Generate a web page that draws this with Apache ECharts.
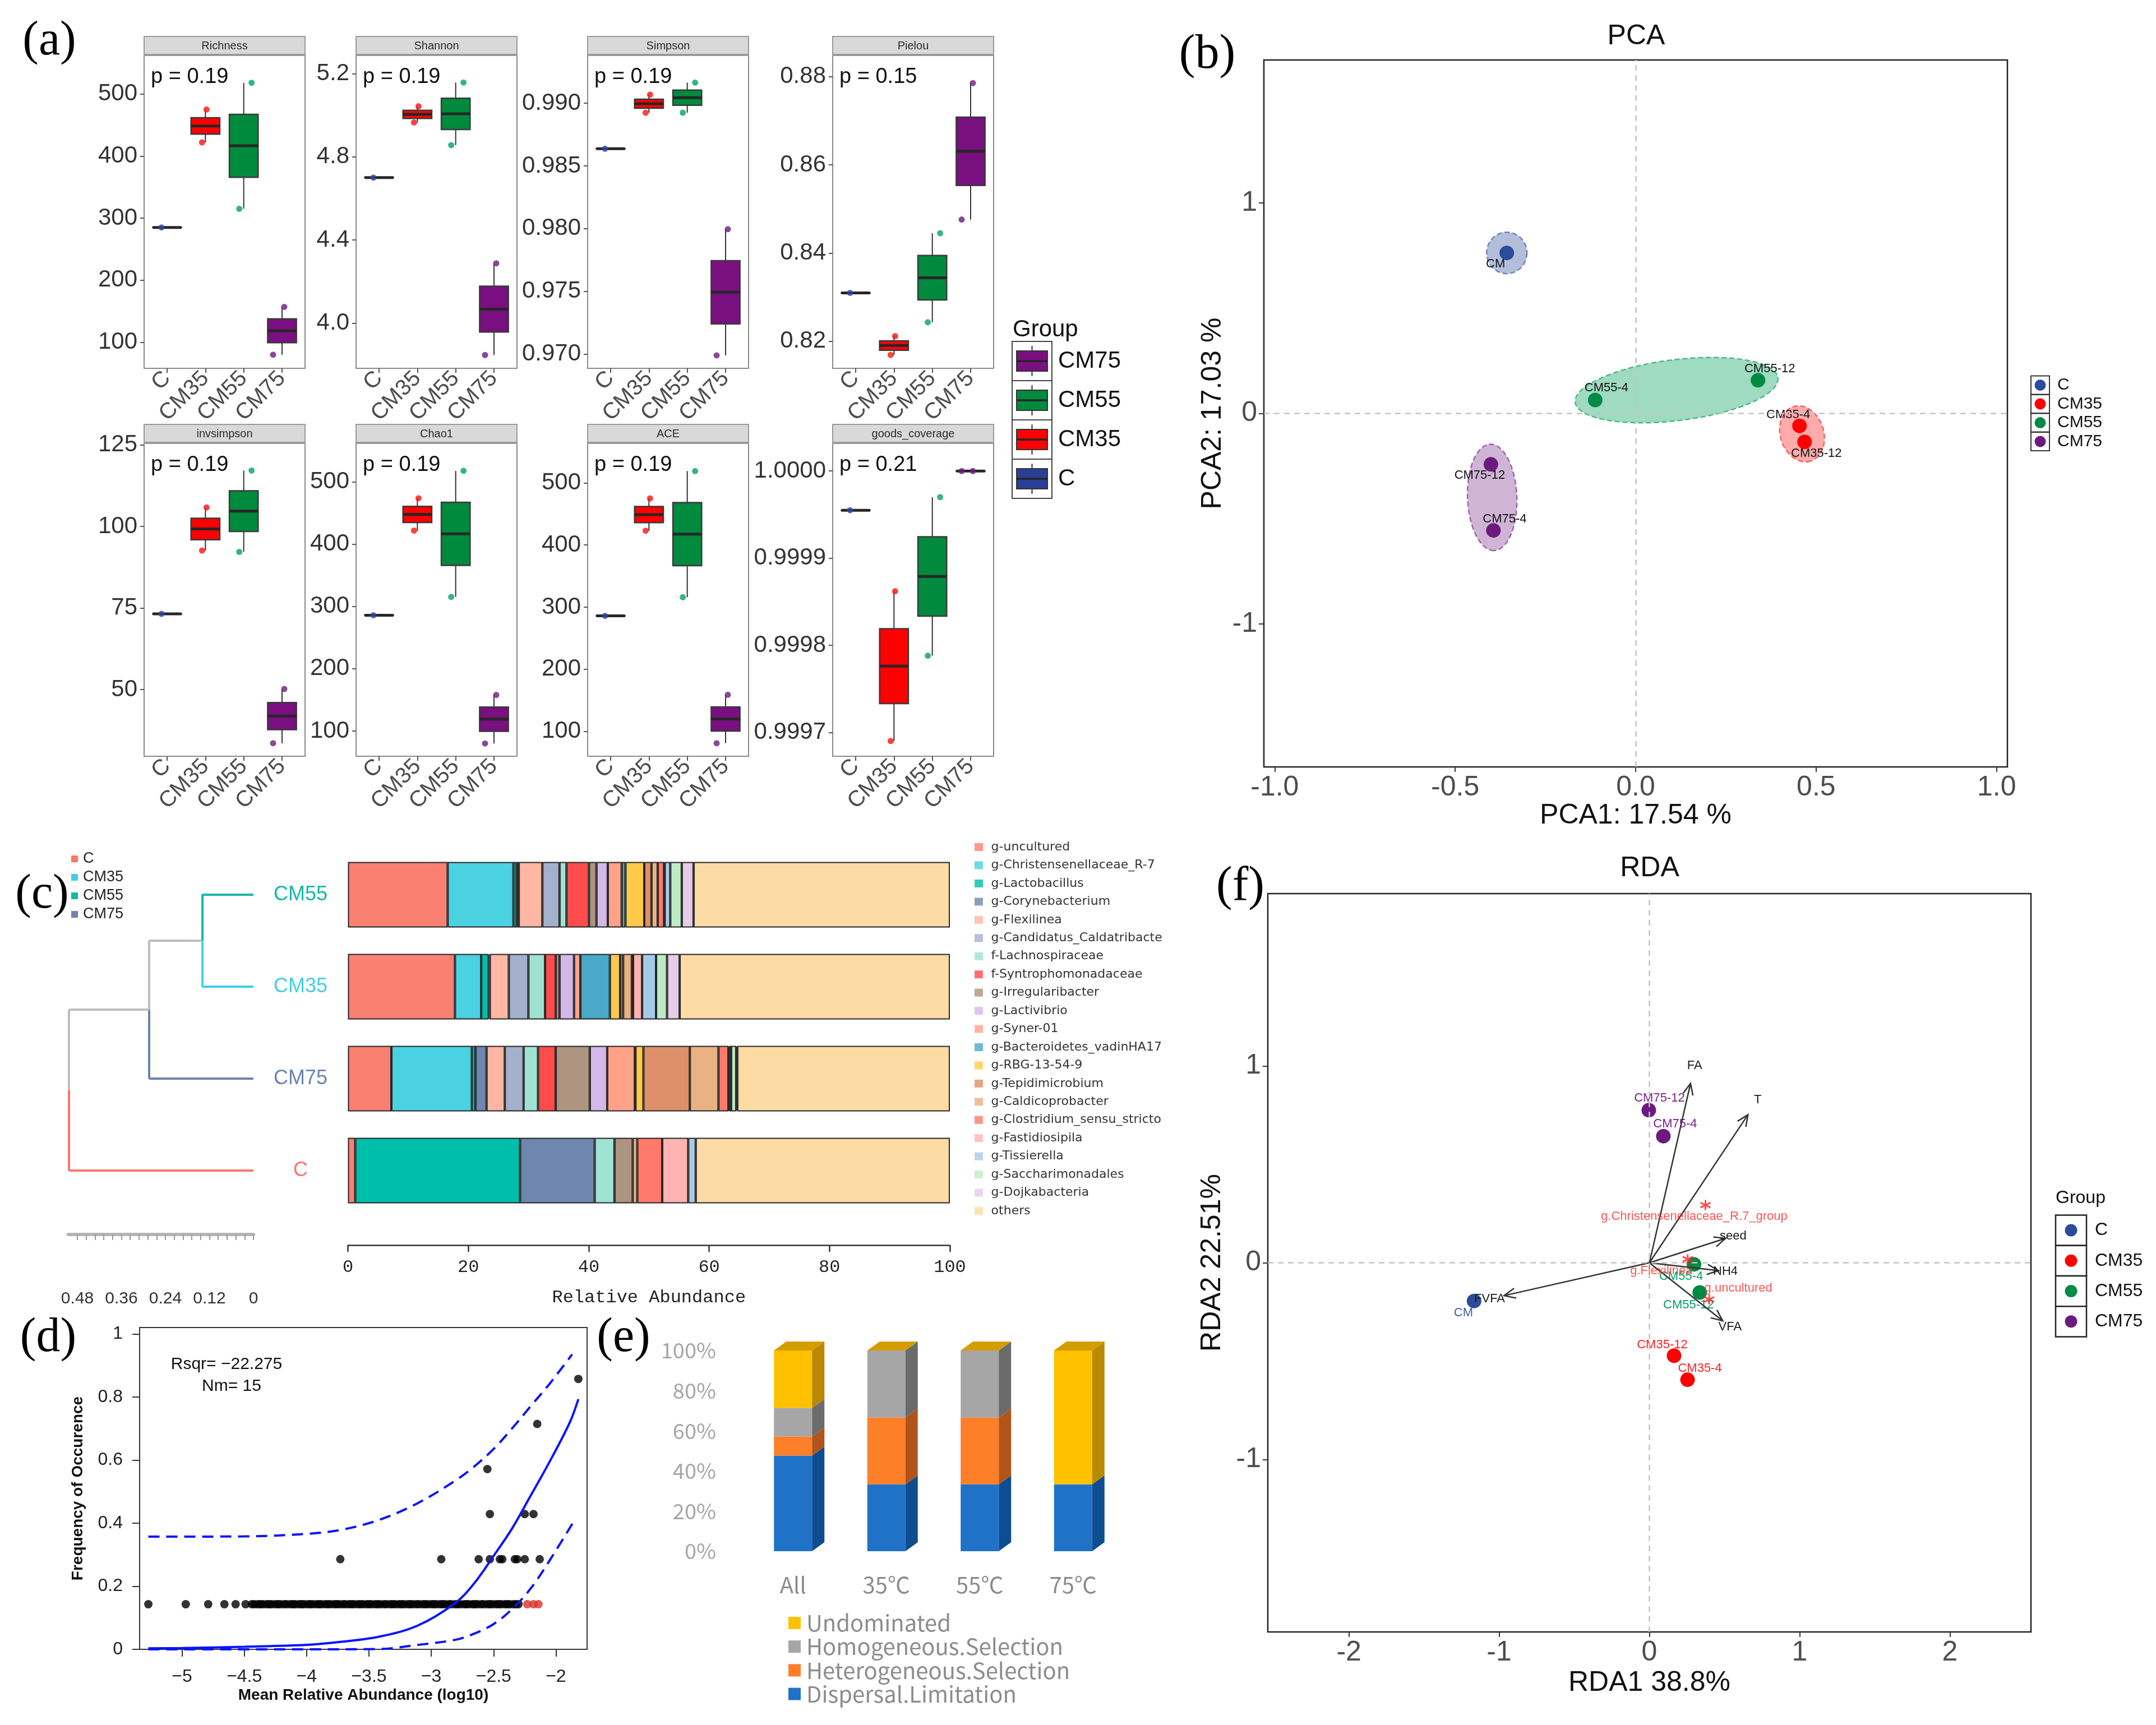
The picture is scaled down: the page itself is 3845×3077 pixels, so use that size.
<!DOCTYPE html>
<html>
<head>
<meta charset="utf-8">
<title>Microbial community figure</title>
<script src="https://cdn.jsdelivr.net/npm/echarts@6.0.0/dist/echarts.min.js"></script>
<style>
html,body{margin:0;padding:0;background:#fff;}
#chart{width:3845px;height:3077px;}
</style>
</head>
<body>
<div id="chart"></div>
<script>
// ======================= DATA =======================
// (a) alpha diversity – sample values per group
const groups = ['C', 'CM35', 'CM55', 'CM75'];
const alphaMetrics = ['Richness', 'Shannon', 'Simpson', 'Pielou', 'invsimpson', 'Chao1', 'ACE', 'goods_coverage'];
const alphaP = ['0.19', '0.19', '0.19', '0.15', '0.19', '0.19', '0.19', '0.21'];
const richness = [[285], [475, 422], [518, 315], [157, 80]];
const shannon = [[4.70], [5.043, 4.965], [5.157, 4.856], [4.288, 3.847]];
const simpson = [[0.98637], [0.99068, 0.98924], [0.99164, 0.98924], [0.97996, 0.96990]];
const pielou = [[0.83098], [0.82117, 0.81691], [0.84449, 0.82432], [0.87854, 0.84761]];
const invsimpson = [[73.2], [105.8, 92.6], [117.1, 92.2], [50.2, 33.6]];
const chao1 = [[286], [474, 422], [518, 315.5], [158, 80]];
const ace = [[286], [475, 423], [519, 316], [159, 81]];
const goodsCoverage = [[0.999955], [0.999862, 0.999690], [0.999970, 0.999788], [1.0000, 1.0000]];
const richnessTicks = [100, 200, 300, 400, 500];
const shannonTicks = [4.0, 4.4, 4.8, 5.2];
const simpsonTicks = [0.970, 0.975, 0.980, 0.985, 0.990];
const pielouTicks = [0.82, 0.84, 0.86, 0.88];
const invsimpsonTicks = [50, 75, 100, 125];
const chao1Ticks = [100, 200, 300, 400, 500];
const aceTicks = [100, 200, 300, 400, 500];
const goodsTicks = [0.9997, 0.9998, 0.9999, 1.0000];

// (b) PCA
const pcaSamples = ['CM', 'CM35-4', 'CM35-12', 'CM55-4', 'CM55-12', 'CM75-12', 'CM75-4'];
const pcaGroup = ['C', 'CM35', 'CM35', 'CM55', 'CM55', 'CM75', 'CM75'];
const pcaX = [-0.357, 0.454, 0.468, -0.112, 0.339, -0.401, -0.394];
const pcaY = [0.763, -0.059, -0.135, 0.064, 0.158, -0.242, -0.556];
const pcaTicksX = [-1.0, -0.5, 0.0, 0.5, 1.0];
const pcaTicksY = [-1, 0, 1];

// (c) relative abundance (%) and clustering
const taxa = ['g-uncultured', 'g-Christensenellaceae_R-7', 'g-Lactobacillus', 'g-Corynebacterium', 'g-Flexilinea',
  'g-Candidatus_Caldatribacte', 'f-Lachnospiraceae', 'f-Syntrophomonadaceae', 'g-Irregularibacter', 'g-Lactivibrio',
  'g-Syner-01', 'g-Bacteroidetes_vadinHA17', 'g-RBG-13-54-9', 'g-Tepidimicrobium', 'g-Caldicoprobacter',
  'g-Clostridium_sensu_stricto', 'g-Fastidiosipila', 'g-Tissierella', 'g-Saccharimonadales', 'g-Dojkabacteria', 'others'];
const barSamples = ['CM55', 'CM35', 'CM75', 'C'];
const abCM55 = [16.57, 10.92, 0.53, 0.36, 3.92, 2.85, 1.16, 3.74, 1.24, 1.88, 2.31, 0.63, 3.12, 1.20, 1.03, 1.06, 0.10, 0.93, 1.91, 1.96, 42.58];
const abCM35 = [17.78, 4.36, 1.25, 0.18, 3.16, 3.25, 2.77, 1.78, 0.62, 2.41, 1.06, 4.90, 1.70, 0.50, 1.45, 0.20, 1.50, 2.32, 1.82, 2.10, 44.89];
const abCM75 = [7.22, 13.36, 0.60, 1.85, 3.03, 3.12, 2.40, 2.94, 5.66, 2.89, 4.60, 0.10, 1.32, 7.71, 4.76, 1.65, 0.15, 0.30, 0.84, 0.18, 35.32];
const abC = [1.21, 0, 27.39, 12.39, 0, 0, 3.29, 0, 3.03, 0, 0, 0, 0, 0, 0.76, 4.14, 4.32, 1.25, 0, 0, 42.22];
const abTicks = [0, 20, 40, 60, 80, 100];
const dendroLeaves = ['CM55', 'CM35', 'CM75', 'C'];
// merges: [child A node, child B node, height]; nodes 0-3 leaves, 4.. merges
const dendroMerges = [[0, 1, 0.14], [4, 2, 0.285], [5, 3, 0.5035]];
const dendroTickLabels = [0.48, 0.36, 0.24, 0.12, 0];

// (d) neutral community model
const occLevels = [0.1429, 0.2857, 0.4286, 0.5714, 0.7143, 0.8571];
const occ1X = [-5.27, -4.97, -4.79, -4.66, -4.57, -4.49, -4.44, -4.42, -4.39, -4.37, -4.35, -4.32, -4.30, -4.28, -4.25, -4.23,
  -4.21, -4.18, -4.16, -4.13, -4.11, -4.09, -4.06, -4.04, -4.02, -3.99, -3.97, -3.95, -3.92, -3.90, -3.88, -3.85, -3.83,
  -3.81, -3.78, -3.76, -3.74, -3.71, -3.69, -3.66, -3.64, -3.62, -3.59, -3.57, -3.55, -3.52, -3.50, -3.48, -3.45, -3.43,
  -3.41, -3.38, -3.36, -3.33, -3.31, -3.29, -3.26, -3.24, -3.22, -3.19, -3.17, -3.15, -3.12, -3.10, -3.07, -3.05, -3.03,
  -3.00, -2.98, -2.96, -2.93, -2.91, -2.89, -2.86, -2.84, -2.81, -2.79, -2.77, -2.74, -2.72, -2.70, -2.67, -2.65, -2.63,
  -2.60, -2.58, -2.55, -2.53, -2.51, -2.48, -2.46, -2.44, -2.41, -2.39, -2.37, -2.34, -2.32, -2.30];
const occ1RedX = [-2.23, -2.18, -2.14];
const occ2X = [-3.73, -2.92, -2.62, -2.53, -2.45, -2.43, -2.33, -2.31, -2.25, -2.13];
const occ3X = [-2.53, -2.25, -2.18];
const occ4X = [-2.55];
const occ5X = [-2.15];
const occ6X = [-1.82];
const fitX = [-5.27, -5.0, -4.5, -4.0, -3.72, -3.42, -3.11, -2.81, -2.66, -2.50, -2.35, -2.20, -2.05, -1.89, -1.82];
const fitY = [0.003, 0.004, 0.008, 0.014, 0.024, 0.040, 0.075, 0.146, 0.207, 0.296, 0.384, 0.489, 0.595, 0.718, 0.793];
const upperX = [-5.27, -4.5, -4.0, -3.72, -3.42, -3.11, -2.81, -2.66, -2.50, -2.35, -2.20, -2.05, -1.87];
const upperY = [0.357, 0.358, 0.366, 0.379, 0.410, 0.463, 0.534, 0.578, 0.635, 0.701, 0.772, 0.842, 0.935];
const lowerX = [-5.27, -4.0, -3.42, -3.11, -2.81, -2.66, -2.50, -2.35, -2.20, -2.05, -1.85];
const lowerY = [0.0, 0.0, 0.001, 0.014, 0.030, 0.049, 0.080, 0.128, 0.194, 0.282, 0.410];
const nmTicksX = [-5, -4.5, -4, -3.5, -3, -2.5, -2];
const nmTicksY = [0, 0.2, 0.4, 0.6, 0.8, 1];

// (e) assembly processes (%)
const procCats = ['All', '35℃', '55℃', '75℃'];
const procNames = ['Dispersal.Limitation', 'Heterogeneous.Selection', 'Homogeneous.Selection', 'Undominated'];
const dispersal = [47.6, 33.3, 33.3, 33.3];
const heterogeneous = [9.5, 33.3, 33.3, 0];
const homogeneous = [14.3, 33.4, 33.4, 0];
const undominated = [28.6, 0, 0, 66.7];
const procTicks = [0, 20, 40, 60, 80, 100];

// (f) RDA
const rdaSamples = ['CM', 'CM35-4', 'CM35-12', 'CM55-4', 'CM55-12', 'CM75-12', 'CM75-4'];
const rdaGroup = ['C', 'CM35', 'CM35', 'CM55', 'CM55', 'CM75', 'CM75'];
const rdaX = [-1.167, 0.254, 0.164, 0.297, 0.335, -0.004, 0.093];
const rdaY = [-0.194, -0.594, -0.472, -0.008, -0.151, 0.775, 0.643];
const envNames = ['FA', 'T', 'seed', 'NH4', 'VFA', 'FVFA'];
const envX = [0.274, 0.656, 0.507, 0.46, 0.488, -0.967];
const envY = [0.911, 0.752, 0.124, -0.040, -0.295, -0.167];
const rdaTaxa = ['g.Christensenellaceae_R.7_group', 'g.Flexilinea', 'g.uncultured'];
const rdaTaxaX = [0.373, 0.255, 0.398];
const rdaTaxaY = [0.293, 0.018, -0.186];
const rdaTicksX = [-2, -1, 0, 1, 2];
const rdaTicksY = [-1, 0, 1];

// ======================= STYLE =======================
const SANS = 'Liberation Sans';
const SERIF = 'Liberation Serif';
const boxFill = ['#2B3F94', '#FF0000', '#008A3E', '#7A0F80'];
const boxPoint = ['#2F45A8', '#FF1010', '#00A36C', '#6E1A80'];
const grpColor = {C: '#2B4B9B', CM35: '#FF0000', CM55: '#008B45', CM75: '#6D1A7E'};
const grpText = {C: '#3D5CB0', CM35: '#FF2020', CM55: '#00A060', CM75: '#7A1F8A'};
const ellFill = {C: 'rgba(43,75,155,0.36)', CM35: 'rgba(255,0,0,0.33)', CM55: 'rgba(0,160,90,0.38)', CM75: 'rgba(109,26,126,0.33)'};
const ellStroke = {C: 'rgba(43,75,155,0.6)', CM35: 'rgba(255,0,0,0.55)', CM55: 'rgba(0,150,80,0.6)', CM75: 'rgba(109,26,126,0.6)'};
const taxaColors = ['#FA8072', '#4AD1E2', '#00BFAA', '#6F87AE', '#FFB6A3', '#A3B1CC', '#9EE2D2', '#FF4B4B', '#AD9480', '#D4B8E8',
  '#FFA288', '#4AA8C8', '#FFCA4A', '#DE906A', '#E9B282', '#FF7A6B', '#FFB3B0', '#A6CBE8', '#BDECC4', '#E6CCE8', '#FDDBA4'];
const leafColors = {CM55: '#14B8A6', CM35: '#40CFE6', CM75: '#6B83AD', C: '#F8766D'};
const procFront = ['#1F72C8', '#FD7F28', '#A6A6A6', '#FFC000'];
const procSide = ['#0E4D8F', '#B1541A', '#6B6B6B', '#B98A00'];
const procTop = '#D49C00';

// ======================= BUILD =======================
const option = {animation: false, backgroundColor: '#fff', textStyle: {fontFamily: SANS},
  grid: [], xAxis: [], yAxis: [], series: []};
const G = [];
function fixAxis(a) {
  a.axisLine = Object.assign({show: false}, a.axisLine || {}, {onZero: false});
  return a;
}
function addGrid(g, x, y) {
  const i = option.grid.length;
  option.grid.push(Object.assign({containLabel: false, outerBoundsMode: 'none'}, g));
  option.xAxis.push(fixAxis(Object.assign({gridIndex: i}, x)));
  option.yAxis.push(fixAxis(Object.assign({gridIndex: i}, y)));
  return i;
}
function txt(x, y, text, o) {
  o = o || {};
  G.push({type: 'text', x: x, y: y, rotation: o.rotation || 0, z: 50, style: {
    text: text, fill: o.color || '#000', fontSize: o.size || 30, fontFamily: o.family || SANS,
    fontWeight: o.weight || 'normal', align: o.align || 'left', textAlign: o.align || 'left',
    verticalAlign: 'middle', textVerticalAlign: 'middle'}});
}
function quant(arr, p) {
  const s = arr.slice().sort((a, b) => a - b);
  const h = (s.length - 1) * p, lo = Math.floor(h);
  const hi = Math.min(lo + 1, s.length - 1);
  return s[lo] + (h - lo) * (s[hi] - s[lo]);
}

// ---------- (a) ----------
const alphaData = [richness, shannon, simpson, pielou, invsimpson, chao1, ace, goodsCoverage];
const alphaTicks = [richnessTicks, shannonTicks, simpsonTicks, pielouTicks, invsimpsonTicks, chao1Ticks, aceTicks, goodsTicks];
const alphaDec = [0, 1, 3, 2, 0, 0, 0, 4];
const alphaRange = [[58, 562], [3.783, 5.287], [0.96887, 0.9938], [0.81387, 0.88479], [29.6, 125.4], [59.4, 562], [60, 563.5], [0.9996725, 1.0000317]];
const aCols = [257, 635, 1048, 1485], aW = 287, aRows = [99, 791], aH = 558;
const aJitter = [[-10], [2, -6], [14, -8], [4, -16]];

function boxRender(params, api) {
  const xi = api.value(0);
  const P = [1, 2, 3, 4, 5].map(d => api.coord([xi, api.value(d)]));
  const w = api.size([0.75, 0])[0];
  const cx = P[0][0];
  const col = boxFill[params.dataIndex];
  return {type: 'group', children: [
    {type: 'line', shape: {x1: cx, y1: P[0][1], x2: cx, y2: P[1][1]}, style: {stroke: '#333', lineWidth: 2}},
    {type: 'line', shape: {x1: cx, y1: P[3][1], x2: cx, y2: P[4][1]}, style: {stroke: '#333', lineWidth: 2}},
    {type: 'rect', shape: {x: cx - w / 2, y: P[3][1], width: w, height: Math.max(P[1][1] - P[3][1], 0.01)},
      style: {fill: col, stroke: '#3a3a3a', lineWidth: 2.5}},
    {type: 'line', shape: {x1: cx - w / 2, y1: P[2][1], x2: cx + w / 2, y2: P[2][1]}, style: {stroke: '#262626', lineWidth: 5}}
  ]};
}

alphaData.forEach((vals, m) => {
  const col = m % 4, row = Math.floor(m / 4);
  const L = aCols[col], T = aRows[row];
  const gi = addGrid(
    {left: L, top: T, width: aW, height: aH, show: true, borderColor: '#8a8a8a', borderWidth: 2, backgroundColor: '#fff'},
    {type: 'value', min: -0.6, max: 3.6, splitLine: {show: false},
      axisTick: {show: true, customValues: [0, 1, 2, 3], length: 8, lineStyle: {color: '#555', width: 2}},
      axisLabel: {customValues: [0, 1, 2, 3], formatter: v => groups[Math.round(v)], rotate: 45, fontSize: 40,
        color: '#4d4d4d', margin: 12, fontFamily: SANS}},
    {type: 'value', min: alphaRange[m][0], max: alphaRange[m][1], splitLine: {show: false},
      axisTick: {show: true, customValues: alphaTicks[m], length: 7, lineStyle: {color: '#555', width: 2}},
      axisLabel: {customValues: alphaTicks[m], formatter: v => Number(v).toFixed(alphaDec[m]), fontSize: 42,
        color: '#333', margin: 12, fontFamily: SANS}}
  );
  const boxes = vals.map((s, i) => [i, Math.min(...s), quant(s, 0.25), quant(s, 0.5), quant(s, 0.75), Math.max(...s)]);
  option.series.push({type: 'custom', xAxisIndex: gi, yAxisIndex: gi, renderItem: boxRender, data: boxes,
    encode: {x: 0, y: [1, 2, 3, 4, 5]}, z: 2, silent: true});
  const pts = [];
  vals.forEach((s, i) => s.forEach((v, k) => pts.push({value: [i, v], symbolOffset: [aJitter[i][k], 0],
    itemStyle: {color: boxPoint[i]}})));
  option.series.push({type: 'scatter', xAxisIndex: gi, yAxisIndex: gi, data: pts, symbolSize: 11, z: 3, silent: true});
  G.push({type: 'rect', z: 40, shape: {x: L, y: T - 34, width: aW, height: 34}, style: {fill: '#d9d9d9', stroke: '#9a9a9a', lineWidth: 2}});
  G.push({type: 'line', z: 41, shape: {x1: L, y1: T - 1, x2: L + aW, y2: T - 1}, style: {stroke: '#9a9a9a', lineWidth: 4}});
  txt(L + aW / 2, T - 17, alphaMetrics[m], {size: 20, color: '#2a2a2a', align: 'center'});
  txt(L + 12, T + 39, 'p = ' + alphaP[m], {size: 38, color: '#111'});
});
// (a) legend
txt(1806, 588, 'Group', {size: 42, color: '#111'});
[3, 2, 1, 0].forEach((gidx, r) => {
  const top = 609 + 70 * r;
  G.push({type: 'rect', z: 40, shape: {x: 1805, y: top, width: 71, height: 70}, style: {fill: '#fff', stroke: '#444', lineWidth: 2}});
  G.push({type: 'line', z: 41, shape: {x1: 1840.5, y1: top + 8, x2: 1840.5, y2: top + 62}, style: {stroke: '#333', lineWidth: 2}});
  G.push({type: 'rect', z: 42, shape: {x: 1813, y: top + 17, width: 55, height: 36}, style: {fill: boxFill[gidx], stroke: '#333', lineWidth: 2}});
  G.push({type: 'line', z: 43, shape: {x1: 1813, y1: top + 35, x2: 1868, y2: top + 35}, style: {stroke: '#262626', lineWidth: 3.5}});
  txt(1887, top + 35, groups[gidx], {size: 42, color: '#111'});
});

// ---------- (b) PCA ----------
const pcaLabelOff = {'CM': [-20, 20], 'CM35-4': [-20, -20], 'CM35-12': [21, 21], 'CM55-4': [20, -22], 'CM55-12': [21, -20], 'CM75-12': [-20, 20], 'CM75-4': [20, -20]};
const gPCA = addGrid(
  {left: 2254, top: 107, width: 1326, height: 1261, show: true, borderColor: '#222', borderWidth: 2.5, backgroundColor: '#fff'},
  {type: 'value', min: -1.03, max: 1.03, splitLine: {show: false},
    axisTick: {show: true, customValues: pcaTicksX, length: 9, lineStyle: {color: '#333', width: 2}},
    axisLabel: {customValues: pcaTicksX, formatter: v => Number(v).toFixed(1), fontSize: 50, color: '#4d4d4d', margin: 12},
    name: 'PCA1: 17.54 %', nameLocation: 'middle', nameGap: 62, nameMoveOverlap: false, nameTextStyle: {fontSize: 50, color: '#111'}},
  {type: 'value', min: -1.68, max: 1.68, splitLine: {show: false},
    axisTick: {show: true, customValues: pcaTicksY, length: 9, lineStyle: {color: '#333', width: 2}},
    axisLabel: {customValues: pcaTicksY, formatter: v => String(v), fontSize: 50, color: '#4d4d4d', margin: 12},
    name: 'PCA2: 17.03 %', nameLocation: 'middle', nameGap: 66, nameMoveOverlap: false, nameTextStyle: {fontSize: 50, color: '#111'}}
);
function ellipseRender(params, api) {
  const gname = groups[api.value(2)];
  const pts = [];
  pcaGroup.forEach((gr, i) => { if (gr === gname) pts.push(api.coord([pcaX[i], pcaY[i]])); });
  let cx = pts[0][0], cy = pts[0][1], d = 0, th = 0;
  if (pts.length > 1) {
    cx = (pts[0][0] + pts[1][0]) / 2; cy = (pts[0][1] + pts[1][1]) / 2;
    const dx = pts[1][0] - pts[0][0], dy = pts[1][1] - pts[0][1];
    d = Math.hypot(dx, dy); th = Math.atan2(dy, dx);
  }
  const a = d / 2 + 36, b = 37 + 0.06 * d;
  const poly = [];
  for (let k = 0; k < 90; k++) {
    const t = k / 90 * 2 * Math.PI;
    poly.push([cx + a * Math.cos(t) * Math.cos(th) - b * Math.sin(t) * Math.sin(th),
      cy + a * Math.cos(t) * Math.sin(th) + b * Math.sin(t) * Math.cos(th)]);
  }
  return {type: 'polygon', shape: {points: poly}, style: {fill: ellFill[gname], stroke: ellStroke[gname], lineWidth: 2.5, lineDash: [9, 5]}};
}
const ellData = groups.map((g, gi) => {
  const xs = [], ys = [];
  pcaGroup.forEach((gr, i) => { if (gr === g) { xs.push(pcaX[i]); ys.push(pcaY[i]); } });
  return [xs.reduce((a, b) => a + b, 0) / xs.length, ys.reduce((a, b) => a + b, 0) / ys.length, gi];
});
option.series.push({type: 'custom', xAxisIndex: gPCA, yAxisIndex: gPCA, renderItem: ellipseRender, data: ellData,
  encode: {x: 0, y: 1}, z: 1, silent: true});
groups.forEach((g, gi) => {
  const data = [];
  pcaSamples.forEach((s, i) => {
    if (pcaGroup[i] === g) data.push({value: [pcaX[i], pcaY[i]], name: s,
      label: {show: true, position: 'inside', offset: pcaLabelOff[s], formatter: s, fontSize: 22, color: '#111', fontFamily: SANS}});
  });
  const ser = {type: 'scatter', xAxisIndex: gPCA, yAxisIndex: gPCA, data: data, symbolSize: 26, z: 3, silent: true,
    itemStyle: {color: grpColor[g], opacity: 1}};
  if (gi === 0) ser.markLine = {silent: true, symbol: ['none', 'none'], label: {show: false},
    lineStyle: {type: [10, 8], color: '#c4c4c4', width: 2.5}, data: [{xAxis: 0}, {yAxis: 0}]};
  option.series.push(ser);
});
txt(2918, 65, 'PCA', {size: 50, align: 'center', color: '#111'});
groups.forEach((g, r) => {
  const c = 687 + 33.5 * r;
  G.push({type: 'rect', z: 40, shape: {x: 3622, y: c - 16.5, width: 33, height: 33}, style: {fill: '#fff', stroke: '#333', lineWidth: 2}});
  G.push({type: 'circle', z: 41, shape: {cx: 3638.5, cy: c, r: 10}, style: {fill: grpColor[g]}});
  txt(3669, c, g, {size: 30, color: '#111'});
});

// ---------- (c) dendrogram + stacked bars ----------
const barTop = 1514, barH = 656;
const gBar = addGrid(
  {left: 620.5, top: barTop, width: 1073.5, height: barH},
  {type: 'value', min: 0, max: 100, interval: 20, offset: 51, splitLine: {show: false},
    axisLine: {show: true, lineStyle: {color: '#333', width: 2.5}},
    axisTick: {show: true, length: 12, lineStyle: {color: '#333', width: 2.5}},
    axisLabel: {customValues: abTicks, formatter: v => String(v), fontSize: 32, color: '#222', margin: 24, fontFamily: 'Liberation Mono'},
    name: 'Relative Abundance', nameLocation: 'middle', nameGap: 78, nameMoveOverlap: false,
    nameTextStyle: {fontSize: 32, color: '#222', fontFamily: 'Liberation Mono'}},
  {type: 'category', data: barSamples, inverse: true, axisTick: {show: false},
    axisLabel: {interval: 0, align: 'center', margin: 84.5, fontSize: 36,
      formatter: v => '{' + v + '|' + v + '}',
      rich: {CM55: {color: leafColors.CM55, fontSize: 36}, CM35: {color: leafColors.CM35, fontSize: 36},
        CM75: {color: leafColors.CM75, fontSize: 36}, C: {color: leafColors.C, fontSize: 36}}}}
);
const abBySample = [abCM55, abCM35, abCM75, abC];
taxa.forEach((t, k) => {
  option.series.push({type: 'bar', name: t, xAxisIndex: gBar, yAxisIndex: gBar, stack: 'ab', barWidth: 117, silent: true,
    data: abBySample.map(a => (a[k] > 0 ? a[k] : '-')),
    itemStyle: {color: taxaColors[k], borderColor: '#262626', borderWidth: 2}});
});
// dendrogram
const dendroTickVals = [];
for (let i = 0; i <= 20; i++) dendroTickVals.push(+(i * 0.024).toFixed(3));
const gDen = addGrid(
  {left: 121.7, top: barTop, width: 330.3, height: barH},
  {type: 'value', min: 0, max: 0.505, inverse: true, position: 'bottom', offset: 32, splitLine: {show: false},
    axisLine: {show: true, lineStyle: {color: '#b4b4b4', width: 6}},
    axisTick: {show: true, customValues: dendroTickVals, length: 10, lineStyle: {color: '#9a9a9a', width: 2}},
    axisLabel: {customValues: dendroTickLabels, formatter: v => String(v), fontSize: 30, color: '#333', margin: 100}},
  {type: 'value', min: -0.5, max: 3.5, inverse: true, show: false}
);
(function () {
  const ny = [0, 1, 2, 3], nh = [0, 0, 0, 0];
  dendroMerges.forEach(m => { ny.push((ny[m[0]] + ny[m[1]]) / 2); nh.push(m[2]); });
  const segs = [];
  dendroMerges.forEach((m, mi) => {
    const node = 4 + mi;
    [m[0], m[1]].forEach(c => {
      const col = c < 4 ? leafColors[dendroLeaves[c]] : '#BDBDBD';
      segs.push({coords: [[nh[c], ny[c]], [nh[node], ny[c]]], lineStyle: {color: col}});
      segs.push({coords: [[nh[node], ny[c]], [nh[node], ny[node]]], lineStyle: {color: col}});
    });
  });
  option.series.push({type: 'lines', coordinateSystem: 'cartesian2d', xAxisIndex: gDen, yAxisIndex: gDen, silent: true,
    lineStyle: {width: 4, opacity: 1, curveness: 0}, data: segs, z: 3});
})();
// small group legend (c)
['C', 'CM35', 'CM55', 'CM75'].forEach((g, r) => {
  const c = 1532 + 33 * r;
  G.push({type: 'rect', z: 40, shape: {x: 127, y: c - 6, width: 12, height: 12}, style: {fill: leafColors[g]}});
  txt(148, c, g, {size: 27, color: '#222'});
});
// taxa legend
taxa.forEach((t, k) => {
  const c = 1511 + 32.45 * k;
  G.push({type: 'rect', z: 40, shape: {x: 1738, y: c - 7, width: 15, height: 14}, style: {fill: taxaColors[k], opacity: 0.8}});
  txt(1767.6, c, t, {size: 22, color: '#333', family: 'DejaVu Sans'});
});

// ---------- (d) neutral model ----------
const gNM = addGrid(
  {left: 249, top: 2368, width: 798, height: 574, show: true, borderColor: '#333', borderWidth: 2, backgroundColor: '#fff'},
  {type: 'value', min: -5.34, max: -1.75, splitLine: {show: false},
    axisTick: {show: true, customValues: nmTicksX, length: 13, lineStyle: {color: '#333', width: 2}},
    axisLabel: {customValues: nmTicksX, formatter: v => (v < 0 ? '\u2212' : '') + Math.abs(v), fontSize: 32, color: '#222', margin: 33},
    name: 'Mean Relative Abundance (log10)', nameLocation: 'middle', nameGap: 68, nameMoveOverlap: false,
    nameTextStyle: {fontSize: 28, fontWeight: 'bold', color: '#111'}},
  {type: 'value', min: 0, max: 1.02, splitLine: {show: false},
    axisTick: {show: true, customValues: nmTicksY, length: 13, lineStyle: {color: '#333', width: 2}},
    axisLabel: {customValues: nmTicksY, formatter: v => String(v), fontSize: 32, color: '#222', margin: 30},
    name: 'Frequency of Occurence', nameLocation: 'middle', nameGap: 96, nameMoveOverlap: false,
    nameTextStyle: {fontSize: 28, fontWeight: 'bold', color: '#111'}}
);
const occAll = [occ1X, occ2X, occ3X, occ4X, occ5X, occ6X];
const blackPts = [];
occAll.forEach((xs, li) => xs.forEach(x => blackPts.push([x, occLevels[li]])));
option.series.push({type: 'scatter', xAxisIndex: gNM, yAxisIndex: gNM, data: blackPts, symbolSize: 15, silent: true,
  itemStyle: {color: '#000'}, z: 2});
option.series.push({type: 'scatter', xAxisIndex: gNM, yAxisIndex: gNM, data: occ1RedX.map(x => [x, occLevels[0]]),
  symbolSize: 15, silent: true, itemStyle: {color: '#D9302C'}, z: 2});
[[fitX, fitY, 'solid'], [upperX, upperY, [20, 12]], [lowerX, lowerY, [20, 12]]].forEach(c => {
  option.series.push({type: 'line', xAxisIndex: gNM, yAxisIndex: gNM, data: c[0].map((x, i) => [x, c[1][i]]),
    showSymbol: false, symbol: 'none', smooth: 0.35, silent: true, z: 4,
    lineStyle: {color: '#0A14FF', width: 4, type: c[2]}});
});
txt(404, 2434, 'Rsqr= \u221222.275', {size: 30, align: 'center', color: '#111'});
txt(413, 2473, 'Nm= 15', {size: 30, align: 'center', color: '#111'});

// ---------- (e) assembly processes (pseudo-3D stacked bars) ----------
const gPR = addGrid(
  {left: 1331, top: 2409, width: 666, height: 358},
  {type: 'category', data: procCats, axisTick: {show: false},
    axisLabel: {interval: 0, fontSize: 40, color: '#8c8c8c', margin: 40, fontFamily: 'Noto Sans CJK SC'}},
  {type: 'value', min: 0, max: 100, interval: 20, splitLine: {show: false}, axisTick: {show: false},
    axisLabel: {customValues: procTicks, formatter: v => v + '%', fontSize: 38, color: '#a6a6a6', margin: 54,
      padding: [28, 0, 0, 0], fontFamily: 'Noto Sans CJK SC'}}
);
const procSeries = [dispersal, heterogeneous, homogeneous, undominated];
function make3D(k) {
  return function (params, api) {
    const i = api.value(0), lo = api.value(1), hi = api.value(2);
    const pLo = api.coord([i, lo]), pHi = api.coord([i, hi]);
    const x0 = pLo[0] - 34, x1 = pLo[0] + 34, yB = pLo[1], yT = pHi[1], dx = 22, dy = -16;
    const ch = [];
    if (yB - yT > 0.1) {
      ch.push({type: 'rect', shape: {x: x0, y: yT, width: 68, height: yB - yT}, style: {fill: procFront[k]}});
      ch.push({type: 'polygon', shape: {points: [[x1, yB], [x1, yT], [x1 + dx, yT + dy], [x1 + dx, yB + dy]]}, style: {fill: procSide[k]}});
    }
    if (k === procSeries.length - 1) {
      ch.push({type: 'polygon', shape: {points: [[x0, yT], [x1, yT], [x1 + dx, yT + dy], [x0 + dx, yT + dy]]}, style: {fill: procTop}});
    }
    return {type: 'group', children: ch};
  };
}
const cum = procCats.map(() => 0);
procSeries.forEach((vals, k) => {
  const data = vals.map((v, i) => { const lo = cum[i]; cum[i] += v; return [i, lo, cum[i]]; });
  option.series.push({type: 'custom', name: procNames[k], xAxisIndex: gPR, yAxisIndex: gPR, renderItem: make3D(k),
    data: data, encode: {x: 0, y: [1, 2]}, silent: true, z: 2 + k});
});
[3, 2, 1, 0].forEach((k, r) => {
  const c = 2895 + 42.2 * r;
  G.push({type: 'rect', z: 40, shape: {x: 1406, y: c - 11, width: 22, height: 22}, style: {fill: procFront[k]}});
  txt(1438, c, procNames[k], {size: 40, color: '#8c8c8c', family: 'Noto Sans CJK SC'});
});

// ---------- (f) RDA ----------
const rdaLabelOff = {'CM': [-19, 21], 'CM35-4': [22, -20], 'CM35-12': [-21, -19], 'CM55-4': [-23, 22], 'CM55-12': [-20, 22], 'CM75-12': [19, -21], 'CM75-4': [21, -22]};
const rdaTaxaOff = [[-20, 20], [-47, 21], [52, -20]];
const gRDA = addGrid(
  {left: 2261, top: 1594, width: 1361, height: 1317, show: true, borderColor: '#222', borderWidth: 2.5, backgroundColor: '#fff'},
  {type: 'value', min: -2.54, max: 2.54, splitLine: {show: false},
    axisTick: {show: true, customValues: rdaTicksX, length: 9, lineStyle: {color: '#333', width: 2}},
    axisLabel: {customValues: rdaTicksX, formatter: v => String(v), fontSize: 50, color: '#4d4d4d', margin: 12},
    name: 'RDA1 38.8%', nameLocation: 'middle', nameGap: 66, nameMoveOverlap: false, nameTextStyle: {fontSize: 50, color: '#111'}},
  {type: 'value', min: -1.875, max: 1.875, splitLine: {show: false},
    axisTick: {show: true, customValues: rdaTicksY, length: 9, lineStyle: {color: '#333', width: 2}},
    axisLabel: {customValues: rdaTicksY, formatter: v => String(v), fontSize: 50, color: '#4d4d4d', margin: 12},
    name: 'RDA2 22.51%', nameLocation: 'middle', nameGap: 74, nameMoveOverlap: false, nameTextStyle: {fontSize: 50, color: '#111'}}
);
function arrowRender(params, api) {
  const o = api.coord([0, 0]), t = api.coord([api.value(0), api.value(1)]);
  const ang = Math.atan2(t[1] - o[1], t[0] - o[0]), L = 22, A = 0.42;
  const h1 = [t[0] - L * Math.cos(ang - A), t[1] - L * Math.sin(ang - A)];
  const h2 = [t[0] - L * Math.cos(ang + A), t[1] - L * Math.sin(ang + A)];
  return {type: 'group', children: [
    {type: 'line', shape: {x1: o[0], y1: o[1], x2: t[0], y2: t[1]}, style: {stroke: '#333', lineWidth: 2.5}},
    {type: 'polyline', shape: {points: [h1, t, h2]}, style: {stroke: '#333', lineWidth: 2.5, fill: 'none'}}
  ]};
}
function envLabelRender(params, api) {
  const p = api.coord([api.value(0), api.value(1)]);
  return {type: 'text', x: p[0], y: p[1], style: {text: envNames[params.dataIndex], fontSize: 22, fill: '#1a1a1a',
    fontFamily: SANS, align: 'center', verticalAlign: 'middle', textAlign: 'center', textVerticalAlign: 'middle'}};
}
option.series.push({type: 'scatter', xAxisIndex: gRDA, yAxisIndex: gRDA, data: [], silent: true, z: 1,
  markLine: {silent: true, symbol: ['none', 'none'], label: {show: false},
    lineStyle: {type: [10, 8], color: '#c4c4c4', width: 2.5}, data: [{xAxis: 0}, {yAxis: 0}]}});
groups.forEach(g => {
  const data = [];
  rdaSamples.forEach((s, i) => {
    if (rdaGroup[i] === g) data.push({value: [rdaX[i], rdaY[i]], name: s,
      label: {show: true, position: 'inside', offset: rdaLabelOff[s], formatter: s, fontSize: 22, color: grpText[g], fontFamily: SANS}});
  });
  option.series.push({type: 'scatter', xAxisIndex: gRDA, yAxisIndex: gRDA, data: data, symbolSize: 26, z: 3, silent: true,
    itemStyle: {color: grpColor[g], opacity: 1}});
});
option.series.push({type: 'custom', xAxisIndex: gRDA, yAxisIndex: gRDA, renderItem: arrowRender,
  data: envX.map((x, i) => [x, envY[i]]), encode: {x: 0, y: 1}, silent: true, z: 4});
option.series.push({type: 'custom', xAxisIndex: gRDA, yAxisIndex: gRDA, renderItem: envLabelRender,
  data: envX.map((x, i) => [x * 1.1, envY[i] * 1.1]), encode: {x: 0, y: 1}, silent: true, z: 5});
option.series.push({type: 'scatter', xAxisIndex: gRDA, yAxisIndex: gRDA, silent: true, z: 5,
  symbol: 'path://M0,-10L0,10M-8.7,-5L8.7,5M-8.7,5L8.7,-5', symbolSize: 18,
  itemStyle: {color: 'none', borderColor: '#FF2020', borderWidth: 3},
  data: rdaTaxa.map((t, i) => ({value: [rdaTaxaX[i], rdaTaxaY[i]], name: t,
    label: {show: true, position: 'inside', offset: rdaTaxaOff[i], formatter: t, fontSize: 22, color: '#FF2A2A', fontFamily: SANS}}))});
txt(2942, 1549, 'RDA', {size: 50, align: 'center', color: '#111'});
txt(3666, 2137, 'Group', {size: 32, color: '#111'});
groups.forEach((g, r) => {
  const top = 2167.5 + 54.25 * r;
  G.push({type: 'rect', z: 40, shape: {x: 3666, y: top, width: 55, height: 54.25}, style: {fill: '#fff', stroke: '#222', lineWidth: 2.5}});
  G.push({type: 'circle', z: 41, shape: {cx: 3693.5, cy: top + 27, r: 11}, style: {fill: grpColor[g]}});
  txt(3736, top + 27, g, {size: 32, color: '#111'});
});

// ---------- panel letters ----------
[['(a)', 88, 74], ['(b)', 2153, 98], ['(c)', 75, 1596], ['(d)', 86, 2387], ['(e)', 1112, 2387], ['(f)', 2212, 1582]].forEach(l => {
  txt(l[1], l[2], l[0], {size: 86, family: SERIF, align: 'center', color: '#000'});
});

option.graphic = {elements: G};
const chart = echarts.init(document.getElementById('chart'), null, {renderer: 'canvas'});
chart.setOption(option);
</script>
</body>
</html>
